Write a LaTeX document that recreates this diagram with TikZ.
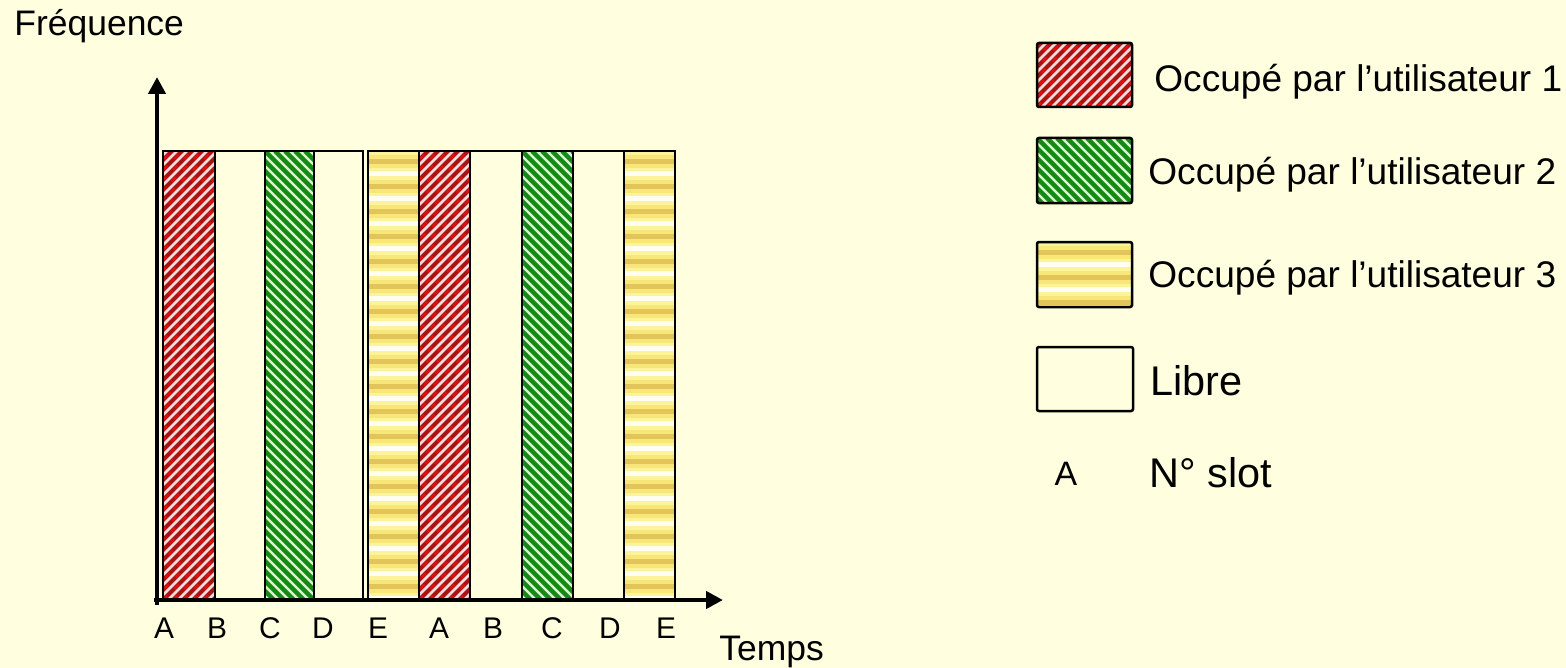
\documentclass[tikz,border=0pt]{standalone}
\usepackage{fontspec}
\setmainfont{Liberation Sans}
\usetikzlibrary{arrows.meta}
\definecolor{bg}{HTML}{FFFFE0}
\definecolor{redbase}{HTML}{F8DCDA}
\definecolor{redstripe}{HTML}{A81414}
\definecolor{redbright}{HTML}{E01010}
\definecolor{greenbase}{HTML}{DDF7D3}
\definecolor{greenstripe}{HTML}{148A14}
\definecolor{yB}{HTML}{E2C458}
\definecolor{yC}{HTML}{F6E778}
\definecolor{yD}{HTML}{FFFEF0}
\definecolor{yE}{HTML}{FDF39A}
\tikzset{
  barline/.style={draw=black, line width=1bp},
  legline/.style={draw=black, line width=1.25bp, rounded corners=1bp},
  axisline/.style={line width=2.4bp, -{Triangle[length=8.5bp,width=8.5bp]}},
  rs/.style={redstripe, line width=2.1bp},
  rb/.style={redbright, line width=1.2bp, dash pattern=on 3bp off 5bp},
  gs/.style={greenstripe, line width=2.2bp},
  lbl/.style={inner sep=0pt, font=\fontsize{15}{18}\selectfont, anchor=base},
  axlbl/.style={inner sep=0pt, font=\fontsize{17.8}{21}\selectfont, anchor=base west},
  legtxt/.style={inner sep=0pt, font=\fontsize{18.6}{22}\selectfont, anchor=base west},
  legbig/.style={inner sep=0pt, font=\fontsize{20.8}{24}\selectfont, anchor=base west},
}
% #1,#2 = top-left x,y ; #3,#4 = bottom-right x,y ; #5 = border style
\newcommand\mkred[5]{%
  \begin{scope}
    \clip (#1,#2) rectangle (#3,#4);
    \fill[redbase] (#1,#2) rectangle (#3,#4);
    \foreach \k in {-480,-470,...,120} {
      \draw[rs] ({#1+\k},#4) -- ++(480,-480);
      \draw[rb] ({#1+\k},#4) -- ++(480,-480);
    }
  \end{scope}
  \draw[#5] (#1,#2) rectangle (#3,#4);}
\newcommand\mkgreen[5]{%
  \begin{scope}
    \clip (#1,#2) rectangle (#3,#4);
    \fill[greenbase] (#1,#2) rectangle (#3,#4);
    \foreach \k in {-480,-470,...,120} \draw[gs] ({#1+\k},#2) -- ++(480,480);
  \end{scope}
  \draw[#5] (#1,#2) rectangle (#3,#4);}
\newcommand\mkyellow[5]{%
  \begin{scope}
    \clip (#1,#2) rectangle (#3,#4);
    \fill[yC] (#1,#2) rectangle (#3,#4);
    \foreach \k in {0,25,...,460} {
      \fill[yE] (#1,{#2+\k}) rectangle (#3,{#2+\k+4});
      \fill[yC] (#1,{#2+\k+4}) rectangle (#3,{#2+\k+8});
      \fill[yB] (#1,{#2+\k+8}) rectangle (#3,{#2+\k+13});
      \fill[yC] (#1,{#2+\k+13}) rectangle (#3,{#2+\k+17});
      \fill[yE] (#1,{#2+\k+17}) rectangle (#3,{#2+\k+20});
      \fill[yD] (#1,{#2+\k+20}) rectangle (#3,{#2+\k+25});
    }
  \end{scope}
  \draw[#5] (#1,#2) rectangle (#3,#4);}
\begin{document}
\begin{tikzpicture}[x=0.5bp, y=-0.5bp]
\useasboundingbox (0,0) rectangle (1566,668);
\fill[bg] (0,0) rectangle (1566,668);

% bars
\mkred{163}{151}{215}{600}{barline}
\draw[barline] (215,151) rectangle (265,600);
\mkgreen{265}{151}{314}{600}{barline}
\draw[barline] (314,151) rectangle (363,600);
\mkyellow{368}{151}{419}{600}{barline}
\mkred{419}{151}{470}{600}{barline}
\draw[barline] (470,151) rectangle (522,600);
\mkgreen{522}{151}{573}{600}{barline}
\draw[barline] (573,151) rectangle (624,600);
\mkyellow{624}{151}{675}{600}{barline}

% axes
\coordinate (o1) at (157,605);
\coordinate (ytip) at (157,77);
\coordinate (o2) at (154,600);
\coordinate (xtip) at (723,600);
\draw[axisline] (o1) -- (ytip);
\draw[axisline] (o2) -- (xtip);

% labels
\node[axlbl] (fq) at (14,36) {Fréquence};
\node[axlbl] (tp) at (719,660) {Temps};
\node[lbl] (s1) at (164,638) {A};
\node[lbl] (s2) at (217,638) {B};
\node[lbl] (s3) at (270,638) {C};
\node[lbl] (s4) at (323,638) {D};
\node[lbl] (s5) at (378,638) {E};
\node[lbl] (s6) at (439,638) {A};
\node[lbl] (s7) at (493,638) {B};
\node[lbl] (s8) at (552,638) {C};
\node[lbl] (s9) at (610,638) {D};
\node[lbl] (s10) at (666,638) {E};

% legend
\mkred{1037}{43}{1132}{107}{legline}
\mkgreen{1037}{138}{1132}{203}{legline}
\mkyellow{1037}{242}{1132}{307}{legline}
\draw[legline] (1037,347) rectangle (1133,411);
\node[legtxt] (l1) at (1154,92) {Occupé par l’utilisateur 1};
\node[legtxt] (l2) at (1148,184) {Occupé par l’utilisateur 2};
\node[legtxt] (l3) at (1148,287) {Occupé par l’utilisateur 3};
\node[legbig] (l4) at (1150,395) {Libre};
\node[lbl, font=\fontsize{17}{20}\selectfont] (la) at (1066,485) {A};
\node[legbig] (l5) at (1149,487) {N° slot};
\end{tikzpicture}
\end{document}
